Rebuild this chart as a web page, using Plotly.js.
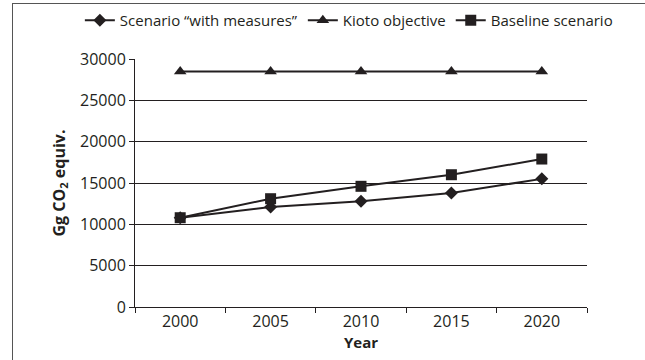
<!DOCTYPE html>
<html>
<head>
<meta charset="utf-8">
<script src="https://cdn.plot.ly/plotly-3.0.1.min.js"></script>
<style>
html,body{margin:0;padding:0;background:#fff;}
#chart{width:645px;height:360px;position:absolute;left:0;top:0;}
#frame{position:absolute;left:12px;top:3px;width:640px;height:360px;border-left:1px solid #555;border-top:1px solid #555;pointer-events:none;}
</style>
</head>
<body>
<div id="chart"></div>
<div id="frame"></div>
<script>
const years = ['2000', '2005', '2010', '2015', '2020'];
const withMeasures = [10800, 12100, 12800, 13800, 15500];
const kioto = [28500, 28500, 28500, 28500, 28500];
const baseline = [10800, 13100, 14600, 16000, 17900];
const yTicks = [0, 5000, 10000, 15000, 20000, 25000, 30000];

const ink = '#231f20';
const font = '"Open Sans", "Noto Sans", sans-serif';

const traces = [
  {x: years, y: withMeasures, name: 'Scenario “with measures”', type: 'scatter', mode: 'lines+markers',
   line: {color: ink, width: 2}, marker: {symbol: 'diamond', size: 10, color: ink}},
  {x: years, y: kioto, name: 'Kioto objective', type: 'scatter', mode: 'lines+markers',
   line: {color: ink, width: 2}, marker: {symbol: 'triangle-up', size: 11, color: ink}},
  {x: years, y: baseline, name: 'Baseline scenario', type: 'scatter', mode: 'lines+markers',
   line: {color: ink, width: 2}, marker: {symbol: 'square', size: 11, color: ink}}
];

const layout = {
  width: 645, height: 360,
  margin: {l: 135, r: 58, t: 59, b: 53, autoexpand: false},
  paper_bgcolor: 'rgba(0,0,0,0)', plot_bgcolor: 'rgba(0,0,0,0)',
  font: {family: font, size: 15, color: ink},
  showlegend: true,
  legend: {orientation: 'h', x: -0.122, xanchor: 'left', y: 1.155, yanchor: 'middle',
           font: {family: font, size: 15, color: ink}, itemwidth: 30, tracegroupgap: 0},
  xaxis: {type: 'category', range: [-0.5, 4.5], tickson: 'boundaries',
          showline: true, linecolor: ink, linewidth: 1, ticks: 'outside', ticklen: 5, tickcolor: ink,
          showgrid: false, zeroline: false,
          tickfont: {family: font, size: 16, color: ink},
          title: {text: '<b>Year</b>', font: {family: font, size: 15, color: ink}, standoff: 5}},
  yaxis: {range: [0, 30000], tickvals: yTicks, ticktext: yTicks.map(String),
          showline: true, linecolor: ink, linewidth: 1, ticks: 'outside', ticklen: 5, tickcolor: ink,
          showgrid: true, gridcolor: ink, gridwidth: 1, zeroline: false,
          tickfont: {family: font, size: 16, color: ink},
          title: {text: '<b>Gg CO<sub>2</sub> equiv.</b>', font: {family: font, size: 16, color: ink}, standoff: 10}}
};

Plotly.newPlot('chart', traces, layout, {displayModeBar: false, staticPlot: true});
</script>
</body>
</html>
